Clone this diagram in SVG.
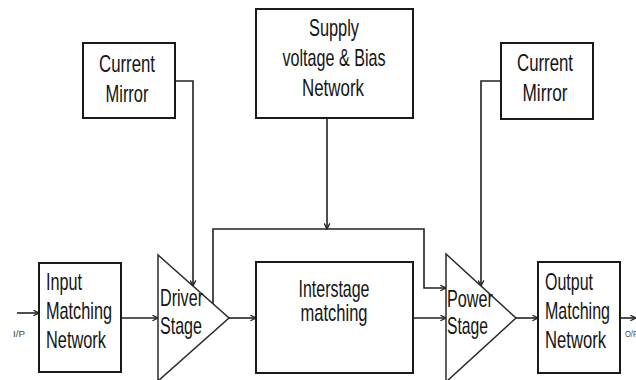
<svg xmlns="http://www.w3.org/2000/svg" width="636" height="380" viewBox="0 0 636 380">
  <style>
    .box { fill: #fff; stroke: #1a1a1a; stroke-width: 2; }
    .amp { fill: #fff; stroke: #2a2a2a; stroke-width: 1.5; }
    .wire { fill: none; stroke: #222; stroke-width: 1.6; }
    .lbl { font-family: "Liberation Sans", Arial, sans-serif; font-size: 24px; fill: #141414; }
    .mid { text-anchor: middle; }
    .tiny { font-family: "Liberation Sans", Arial, sans-serif; font-size: 9px; fill: #444; }
  </style>
  <defs>
    <marker id="arrow" viewBox="0 0 10 10" refX="9" refY="5" markerWidth="7" markerHeight="7" markerUnits="userSpaceOnUse" orient="auto">
      <path d="M1,1 L9,5 L1,9" fill="none" stroke="#222" stroke-width="1.8"/>
    </marker>
  </defs>
  <rect width="636" height="380" fill="#fff"/>

  <!-- connectors -->
  <g id="connectors">
    <path class="wire" d="M175,81 H193 V286" marker-end="url(#arrow)"/>
    <path class="wire" d="M327,118 V229" marker-end="url(#arrow)"/>
    <path class="wire" d="M501,81 H481 V286" marker-end="url(#arrow)"/>
    <path class="wire" d="M213,304 V229 H424 V288 H446" marker-end="url(#arrow)"/>
    <path class="wire" d="M17,313 H39" marker-end="url(#arrow)"/>
    <path class="wire" d="M121,318 H158" marker-end="url(#arrow)"/>
    <path class="wire" d="M229,318 H256" marker-end="url(#arrow)"/>
    <path class="wire" d="M413,318 H446" marker-end="url(#arrow)"/>
    <path class="wire" d="M516,318 H538" marker-end="url(#arrow)"/>
    <path class="wire" d="M620,318 H636" marker-end="url(#arrow)"/>
  </g>

  <g id="current-mirror-left">
    <rect class="box" x="83" y="43" width="92" height="75"/>
    <text class="lbl mid" x="127" y="72" textLength="56" lengthAdjust="spacingAndGlyphs">Current</text>
    <text class="lbl mid" x="127" y="102" textLength="43" lengthAdjust="spacingAndGlyphs">Mirror</text>
  </g>

  <g id="supply-bias">
    <rect class="box" x="256" y="9" width="157" height="109"/>
    <text class="lbl mid" x="334" y="36" textLength="50" lengthAdjust="spacingAndGlyphs">Supply</text>
    <text class="lbl mid" x="334" y="66" textLength="103" lengthAdjust="spacingAndGlyphs">voltage &amp; Bias</text>
    <text class="lbl mid" x="333" y="96" textLength="62" lengthAdjust="spacingAndGlyphs">Network</text>
  </g>

  <g id="current-mirror-right">
    <rect class="box" x="501" y="43" width="92" height="76"/>
    <text class="lbl mid" x="545" y="71" textLength="56" lengthAdjust="spacingAndGlyphs">Current</text>
    <text class="lbl mid" x="545" y="101" textLength="45" lengthAdjust="spacingAndGlyphs">Mirror</text>
  </g>

  <g id="input-matching">
    <rect class="box" x="39" y="263" width="82" height="109"/>
    <text class="lbl" x="46" y="290" textLength="36" lengthAdjust="spacingAndGlyphs">Input</text>
    <text class="lbl" x="46" y="319" textLength="66" lengthAdjust="spacingAndGlyphs">Matching</text>
    <text class="lbl" x="46" y="348" textLength="60" lengthAdjust="spacingAndGlyphs">Network</text>
  </g>

  <g id="driver-stage">
    <polygon class="amp" points="158,255 158,381 229,318"/>
    <text class="lbl" x="160" y="306" textLength="43" lengthAdjust="spacingAndGlyphs">Driver</text>
    <text class="lbl" x="160" y="334" textLength="42" lengthAdjust="spacingAndGlyphs">Stage</text>
  </g>

  <g id="interstage-matching">
    <rect class="box" x="256" y="262" width="157" height="111"/>
    <text class="lbl mid" x="334" y="297" textLength="71" lengthAdjust="spacingAndGlyphs">Interstage</text>
    <text class="lbl mid" x="334" y="321" textLength="67" lengthAdjust="spacingAndGlyphs">matching</text>
  </g>

  <g id="power-stage">
    <polygon class="amp" points="446,254 446,382 516,318"/>
    <text class="lbl" x="447" y="307" textLength="46" lengthAdjust="spacingAndGlyphs">Power</text>
    <text class="lbl" x="447" y="334" textLength="41" lengthAdjust="spacingAndGlyphs">Stage</text>
  </g>

  <g id="output-matching">
    <rect class="box" x="538" y="262" width="82" height="111"/>
    <text class="lbl" x="545" y="290" textLength="48" lengthAdjust="spacingAndGlyphs">Output</text>
    <text class="lbl" x="545" y="319" textLength="65" lengthAdjust="spacingAndGlyphs">Matching</text>
    <text class="lbl" x="545" y="348" textLength="61" lengthAdjust="spacingAndGlyphs">Network</text>
  </g>

  <g id="io-labels">
    <text class="tiny" x="13" y="337" textLength="12" lengthAdjust="spacingAndGlyphs">I/P</text>
    <text class="tiny" x="625" y="337" textLength="13" lengthAdjust="spacingAndGlyphs">O/P</text>
  </g>
</svg>
